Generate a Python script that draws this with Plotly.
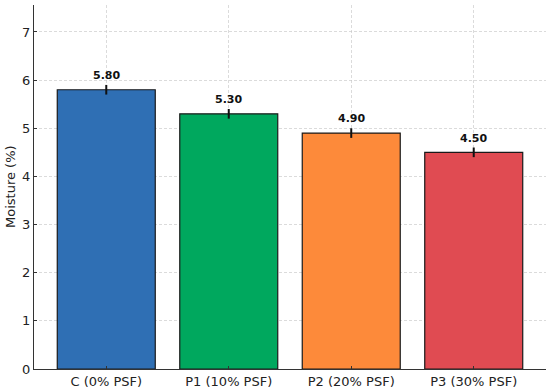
import plotly.graph_objects as go

categories = ["C (0% PSF)", "P1 (10% PSF)", "P2 (20% PSF)", "P3 (30% PSF)"]
moisture = [5.80, 5.30, 4.90, 4.50]
errors = [0.1, 0.1, 0.1, 0.1]
colors = ["#2f6fb4", "#00a85e", "#fd8a3a", "#e04b52"]
labels = [f"{v:.2f}" for v in moisture]

font = "DejaVu Sans"
grid = "rgba(195,195,195,0.6)"

fig = go.Figure()
fig.add_trace(go.Bar(
    x=categories, y=moisture,
    marker=dict(color=colors, line=dict(color="#1a1a1a", width=1.2)),
    error_y=dict(type="data", array=errors, visible=True, color="#111111", thickness=2, width=0),
    hoverinfo="skip",
))

for c, v, e, t in zip(categories, moisture, errors, labels):
    fig.add_annotation(x=c, y=v + e, text=f"<b>{t}</b>", showarrow=False,
                       yanchor="bottom", yshift=1,
                       font=dict(family=font, size=11, color="#111111"))

fig.add_annotation(x=0, xref="paper", xshift=-24, y=0.5, yref="paper",
                   text="Moisture (%)", textangle=-90, showarrow=False,
                   xanchor="center", yanchor="middle",
                   font=dict(family=font, size=13, color="#222222"))

fig.update_layout(
    width=550, height=390,
    margin=dict(l=34, r=4, t=5, b=21, autoexpand=False),
    plot_bgcolor="white", paper_bgcolor="white",
    bargap=0.2,
    showlegend=False,
    font=dict(family=font, size=13, color="#222222"),
)
fig.update_xaxes(
    range=[-0.59, 3.59], automargin=False, layer="above traces",
    showline=True, linecolor="#333333", linewidth=1,
    showgrid=True, gridcolor=grid, griddash="3px,2px", gridwidth=1,
    ticks="inside", ticklen=3, tickcolor="#333333",
    tickfont=dict(family=font, size=13, color="#222222"),
)
fig.update_yaxes(
    range=[0, 7.56], automargin=False, layer="above traces",
    tickvals=[0, 1, 2, 3, 4, 5, 6, 7],
    showline=True, linecolor="#333333", linewidth=1,
    showgrid=True, gridcolor=grid, griddash="3px,2px", gridwidth=1,
    zeroline=False,
    ticks="inside", ticklen=3, tickcolor="#333333",
    tickfont=dict(family=font, size=13, color="#222222"),
)

fig.write_html("out.html", config={"displayModeBar": False},
               post_script="document.body.style.margin='0';document.body.style.overflow='hidden';")
